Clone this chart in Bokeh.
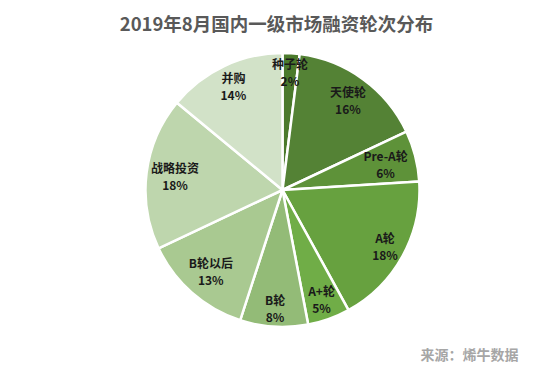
import math
from bokeh.plotting import figure
from bokeh.models import Range1d, ColumnDataSource, Label
from bokeh.core.properties import value
from bokeh.embed import file_html
from bokeh.resources import INLINE

categories = ["种子轮", "天使轮", "Pre-A轮", "A轮", "A+轮", "B轮", "B轮以后", "战略投资", "并购"]
shares = [2, 16, 6, 18, 5, 8, 13, 18, 14]
colors = ["#4b7a2c", "#548235", "#5e9239", "#67a13f", "#70ad47", "#93bb77", "#a9c991", "#bed6ad", "#d2e2c8"]

W, H = 538, 362
p = figure(width=W, height=H, output_backend="svg", toolbar_location=None,
           x_range=Range1d(0, W), y_range=Range1d(0, H), min_border=0)
p.axis.visible = False
p.grid.visible = False
p.outline_line_color = None
p.background_fill_color = "white"

FS = 12.0
cx, cy, R = 282, H - 189.5, 137


def text_width(s):
    return sum(FS if ord(ch) > 255 else FS * 0.62 for ch in s)


total = sum(shares)
starts, ends, lx, ly, l1 = [], [], [], [], []
cum = 0.0
for c, s in zip(categories, shares):
    a0 = math.pi / 2 - 2 * math.pi * cum / total
    cum += s
    a1 = math.pi / 2 - 2 * math.pi * cum / total
    starts.append(a1)
    ends.append(a0)
    mid = (a0 + a1) / 2
    theta = math.pi / 2 - mid
    w = max(text_width(c), text_width(str(s) + "%"))
    h = FS * 2.5
    ext = (w / 2) * abs(math.sin(theta)) + (h / 2) * abs(math.cos(theta))
    lr = R - 3 - ext
    lx.append(cx + lr * math.cos(mid))
    ly.append(cy + lr * math.sin(mid))
    l1.append(c + "\n" + str(s) + "%")

src = ColumnDataSource(dict(start=starts, end=ends, color=colors,
                            x=[cx] * len(shares), y=[cy] * len(shares),
                            lx=lx, ly=ly, label=l1))
p.wedge(x="x", y="y", radius=R, radius_units="screen", start_angle="start", end_angle="end",
        fill_color="color", line_color="white", line_width=2.5, source=src)
p.text(x="lx", y="ly", text="label", source=src, text_align="center", text_baseline="middle",
       text_font=value("Noto Sans CJK SC"), text_font_style="bold", text_font_size=f"{FS}px",
       text_color="#1a1a1a", text_line_height=1.0)

p.add_layout(Label(x=276, y=H - 22, text="2019年8月国内一级市场融资轮次分布", text_align="center",
                   text_baseline="middle", text_font="Noto Sans CJK SC", text_font_style="bold",
                   text_font_size="18.5px", text_color="#595959"))
p.add_layout(Label(x=518, y=H - 353, text="来源：烯牛数据", text_align="right",
                   text_baseline="middle", text_font="Noto Sans CJK SC", text_font_style="bold",
                   text_font_size="14px", text_color="#a6a6a6"))

open("out.html", "w").write(file_html(p, INLINE))
